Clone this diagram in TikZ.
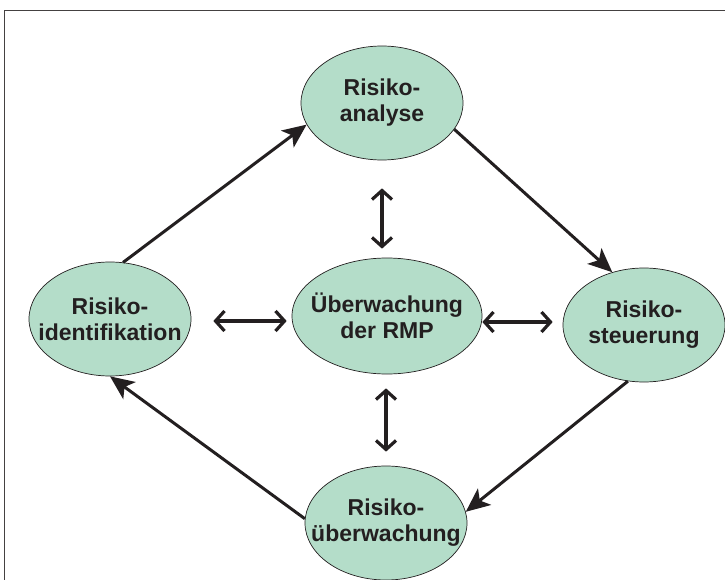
\documentclass[tikz,border=0pt]{standalone}
\usepackage{fontspec}
\setmainfont{Liberation Sans}
\usetikzlibrary{shapes.geometric,arrows.meta}
\definecolor{fillgreen}{HTML}{B4DDC9}
\definecolor{ink}{HTML}{231F20}
\tikzset{
  phase/.style={ellipse, draw=ink, line width=0.7pt, fill=fillgreen,
    inner xsep=-40pt, inner ysep=-20pt,
    minimum width=162pt, minimum height=114pt, align=center, text=ink,
    font=\fontsize{23}{26}\selectfont\bfseries},
  cyc/.style={draw=ink, line width=3pt, -{Stealth[length=24pt,width=21pt,inset=6pt]}},
  dbl/.style={draw=ink, line width=3.2pt, {Straight Barb[length=9pt,width=20pt]}-{Straight Barb[length=9pt,width=20pt]}}
}
\begin{document}
\begin{tikzpicture}[x=1pt,y=-1pt]
\useasboundingbox (0,0) rectangle (725,580);
\draw[draw=ink!85, line width=1pt] (4,600) -- (4,11) -- (740,11);
\node[phase] (ana) at (382,103) {Risiko-\\analyse};
\node[phase] (ident) at (110,319) {Risiko-\\identifikation};
\node[phase] (steu) at (644,325) {Risiko-\\steuerung};
\node[phase] (ueb) at (386,523) {Risiko-\\überwachung};
\node[phase, minimum width=190pt, minimum height=116pt] (mon) at (387,316) {Überwachung\\der RMP};
\draw[cyc] (ident.77) -- (ana.196);
\draw[cyc] (ana.340) -- (steu.121);
\draw[cyc] (steu.254) -- (ueb.8);
\draw[cyc] (ueb.177) -- (ident.270);
\draw[dbl, shorten <=28pt, shorten >=9pt] (ana.south) -- (ana.south |- mon.north);
\draw[dbl, shorten <=14pt, shorten >=14pt] (ueb.north |- mon.south) -- (ueb.north);
\draw[dbl, shorten <=0pt, shorten >=10pt] ([yshift=-6pt]mon.east) -- ([yshift=3pt]steu.west);
\draw[dbl, shorten <=22pt, shorten >=5pt] ([yshift=-2pt]ident.east) -- ([yshift=-5pt]mon.west);
\end{tikzpicture}
\end{document}
